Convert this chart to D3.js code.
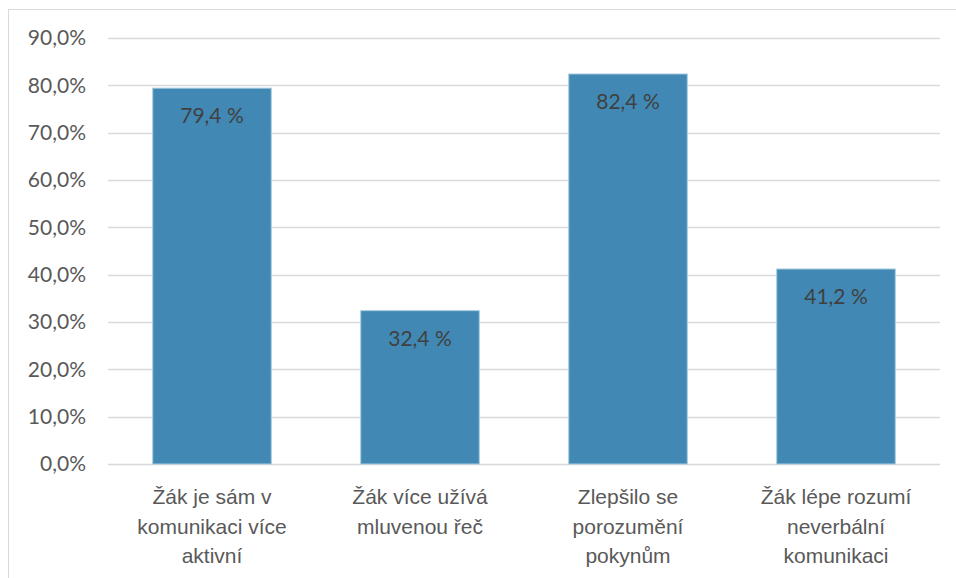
<!DOCTYPE html>
<html><head><meta charset="utf-8">
<script src="https://cdn.jsdelivr.net/npm/d3@7"></script>
<style>
html,body{margin:0;padding:0;background:#fff;}
svg{display:block;font-family:Lato,"Open Sans",sans-serif;}
</style></head>
<body>
<svg id="c" width="956" height="578"></svg>
<script>
const categories = [
  ["Žák je sám v", "komunikaci více", "aktivní"],
  ["Žák více užívá", "mluvenou řeč"],
  ["Zlepšilo se", "porozumění", "pokynům"],
  ["Žák lépe rozumí", "neverbální", "komunikaci"]
];
const values = [79.4, 32.4, 82.4, 41.2];
const valueLabels = ["79,4 %", "32,4 %", "82,4 %", "41,2 %"];
const yTicks = [0, 10, 20, 30, 40, 50, 60, 70, 80, 90];

(function () {
const svg = d3.select("#c");
const mLeft = 108, mRight = 940, mTop = 38, mBottom = 464;
const fs = 21;

// outer frame
svg.append("rect").attr("x", 8.5).attr("y", 9.5).attr("width", 960).attr("height", 600)
  .attr("fill", "none").attr("stroke", "#d9d9d9").attr("stroke-width", 1);

const x = d3.scaleBand().domain(d3.range(values.length)).range([mLeft, mRight]).paddingInner(0.43).paddingOuter(0.215);
const y = d3.scaleLinear().domain([0, 90]).range([mBottom, mTop]);

// gridlines
svg.append("g").selectAll("line").data(yTicks).join("line")
  .attr("x1", mLeft).attr("x2", mRight)
  .attr("y1", d => Math.round(y(d)) + 0.5).attr("y2", d => Math.round(y(d)) + 0.5)
  .attr("stroke", "#d9d9d9").attr("stroke-width", 1.5);

// y axis labels
const yAxis = d3.axisLeft(y).tickValues(yTicks).tickSize(0).tickPadding(0)
  .tickFormat(d => d.toFixed(1).replace(".", ",") + "%");
const ya = svg.append("g").attr("transform", `translate(86,0)`).call(yAxis);
ya.select(".domain").remove();
ya.selectAll("text").attr("font-size", fs).attr("fill", "#595959").attr("font-family", "Lato, sans-serif");

// bars
svg.append("g").selectAll("rect").data(values).join("rect")
  .attr("x", (d, i) => x(i)).attr("width", x.bandwidth())
  .attr("y", d => y(d)).attr("height", d => y(0) - y(d))
  .attr("fill", "#4189b4").attr("stroke", "#a9cbe0").attr("stroke-width", 1);

// value labels
svg.append("g").selectAll("text").data(values).join("text")
  .attr("x", (d, i) => x(i) + x.bandwidth() / 2)
  .attr("y", d => y(d) + 35)
  .attr("text-anchor", "middle").attr("font-size", fs).attr("fill", "#404040")
  .text((d, i) => valueLabels[i]);

// category labels
const xAxis = d3.axisBottom(x).tickSize(0).tickFormat("");
const xa = svg.append("g").attr("transform", `translate(0,${mBottom})`).call(xAxis);
xa.select(".domain").remove();
xa.selectAll(".tick").each(function(d) {
  const t = d3.select(this).append("text").attr("text-anchor", "middle")
    .attr("font-size", fs).attr("fill", "#595959");
  categories[d].forEach((line, k) => {
    t.append("tspan").attr("x", 0).attr("y", 40 + k * 29.5).text(line);
  });
});
})();
</script>
</body></html>
